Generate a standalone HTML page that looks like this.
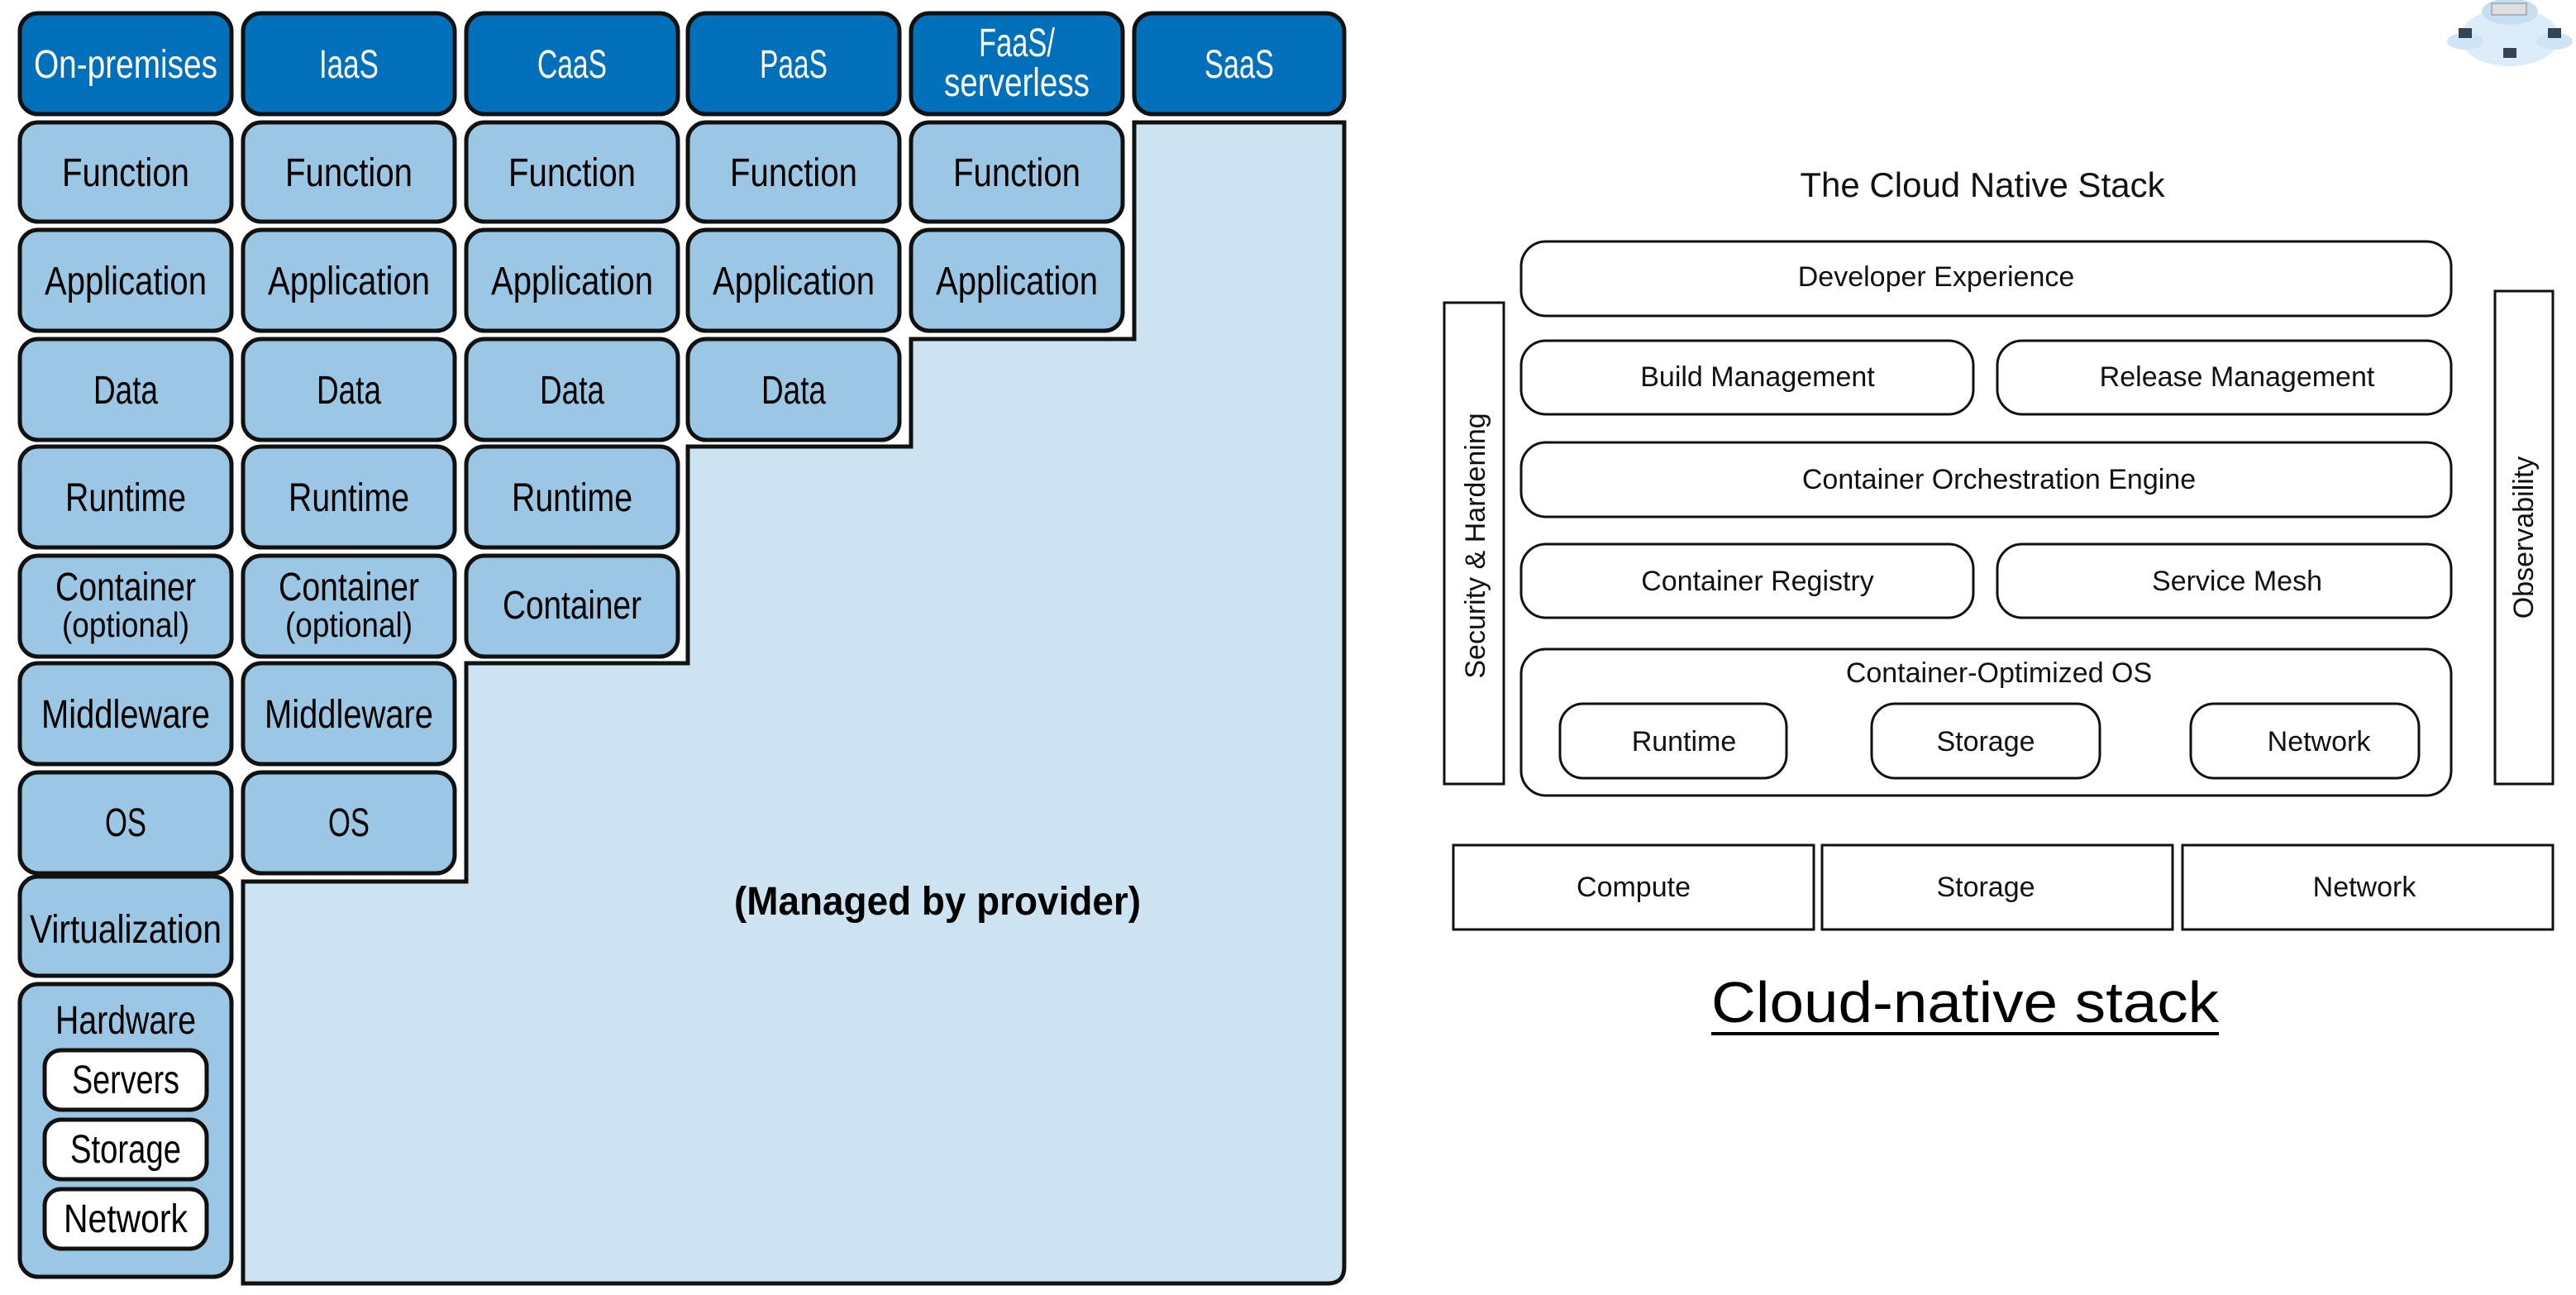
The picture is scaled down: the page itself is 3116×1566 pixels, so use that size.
<!DOCTYPE html>
<html><head><meta charset="utf-8"><style>
html,body{margin:0;padding:0;background:#fff;width:3116px;height:1566px;overflow:hidden}
svg{display:block}
.c{font-family:"Liberation Sans",sans-serif;font-size:48px;text-anchor:middle;fill:#000}
.w{fill:#fff}
.r{font-family:"Liberation Sans",sans-serif;font-size:34px;text-anchor:middle;fill:#111}
</style></head><body>
<svg width="3116" height="1566" viewBox="0 0 3116 1566" xmlns="http://www.w3.org/2000/svg">
<g stroke="#111" stroke-width="5">
<path d="M1372,148 L1626,148 L1626,1532 Q1626,1552 1606,1552 L294,1552 L294,1066 L564,1066 L564,802 L832,802 L832,540 L1102,540 L1102,410 L1372,410 Z" fill="#cde3f1"/>
<g fill="#0070bb">
<rect x="24" y="16" width="256" height="122" rx="22"/>
<rect x="294" y="16" width="256" height="122" rx="22"/>
<rect x="564" y="16" width="256" height="122" rx="22"/>
<rect x="832" y="16" width="256" height="122" rx="22"/>
<rect x="1102" y="16" width="256" height="122" rx="22"/>
<rect x="1372" y="16" width="254" height="122" rx="22"/>
</g>
<g fill="#9bc6e4">
<rect x="24" y="148" width="256" height="120" rx="22"/>
<rect x="24" y="278" width="256" height="122" rx="22"/>
<rect x="24" y="410" width="256" height="122" rx="22"/>
<rect x="24" y="540" width="256" height="122" rx="22"/>
<rect x="24" y="672" width="256" height="122" rx="22"/>
<rect x="24" y="802" width="256" height="122" rx="22"/>
<rect x="24" y="934" width="256" height="122" rx="22"/>
<rect x="24" y="1060" width="256" height="120" rx="22"/>
<rect x="24" y="1190" width="256" height="354" rx="22"/>
<rect x="294" y="148" width="256" height="120" rx="22"/>
<rect x="294" y="278" width="256" height="122" rx="22"/>
<rect x="294" y="410" width="256" height="122" rx="22"/>
<rect x="294" y="540" width="256" height="122" rx="22"/>
<rect x="294" y="672" width="256" height="122" rx="22"/>
<rect x="294" y="802" width="256" height="122" rx="22"/>
<rect x="294" y="934" width="256" height="122" rx="22"/>
<rect x="564" y="148" width="256" height="120" rx="22"/>
<rect x="564" y="278" width="256" height="122" rx="22"/>
<rect x="564" y="410" width="256" height="122" rx="22"/>
<rect x="564" y="540" width="256" height="122" rx="22"/>
<rect x="564" y="672" width="256" height="122" rx="22"/>
<rect x="832" y="148" width="256" height="120" rx="22"/>
<rect x="832" y="278" width="256" height="122" rx="22"/>
<rect x="832" y="410" width="256" height="122" rx="22"/>
<rect x="1102" y="148" width="256" height="120" rx="22"/>
<rect x="1102" y="278" width="256" height="122" rx="22"/>
</g>
<g fill="#fff">
<rect x="54" y="1270" width="196" height="72" rx="20"/>
<rect x="54" y="1354" width="196" height="72" rx="20"/>
<rect x="54" y="1438" width="196" height="72" rx="20"/>
</g>
</g>
<g>
<text x="152" y="94" textLength="222" lengthAdjust="spacingAndGlyphs" class="c w">On-premises</text>
<text x="422" y="94" textLength="72" lengthAdjust="spacingAndGlyphs" class="c w">IaaS</text>
<text x="692" y="94" textLength="84" lengthAdjust="spacingAndGlyphs" class="c w">CaaS</text>
<text x="960" y="94" textLength="82" lengthAdjust="spacingAndGlyphs" class="c w">PaaS</text>
<text x="1230" y="68" textLength="92" lengthAdjust="spacingAndGlyphs" class="c w">FaaS/</text>
<text x="1230" y="116" textLength="176" lengthAdjust="spacingAndGlyphs" class="c w">serverless</text>
<text x="1499" y="94" textLength="84" lengthAdjust="spacingAndGlyphs" class="c w">SaaS</text>
</g>
<g>
<text class="c" x="152" y="225" textLength="154" lengthAdjust="spacingAndGlyphs">Function</text>
<text class="c" x="422" y="225" textLength="154" lengthAdjust="spacingAndGlyphs">Function</text>
<text class="c" x="692" y="225" textLength="154" lengthAdjust="spacingAndGlyphs">Function</text>
<text class="c" x="960" y="225" textLength="154" lengthAdjust="spacingAndGlyphs">Function</text>
<text class="c" x="1230" y="225" textLength="154" lengthAdjust="spacingAndGlyphs">Function</text>
<text class="c" x="152" y="356" textLength="196" lengthAdjust="spacingAndGlyphs">Application</text>
<text class="c" x="422" y="356" textLength="196" lengthAdjust="spacingAndGlyphs">Application</text>
<text class="c" x="692" y="356" textLength="196" lengthAdjust="spacingAndGlyphs">Application</text>
<text class="c" x="960" y="356" textLength="196" lengthAdjust="spacingAndGlyphs">Application</text>
<text class="c" x="1230" y="356" textLength="196" lengthAdjust="spacingAndGlyphs">Application</text>
<text class="c" x="152" y="488" textLength="78" lengthAdjust="spacingAndGlyphs">Data</text>
<text class="c" x="422" y="488" textLength="78" lengthAdjust="spacingAndGlyphs">Data</text>
<text class="c" x="692" y="488" textLength="78" lengthAdjust="spacingAndGlyphs">Data</text>
<text class="c" x="960" y="488" textLength="78" lengthAdjust="spacingAndGlyphs">Data</text>
<text class="c" x="152" y="618" textLength="146" lengthAdjust="spacingAndGlyphs">Runtime</text>
<text class="c" x="422" y="618" textLength="146" lengthAdjust="spacingAndGlyphs">Runtime</text>
<text class="c" x="692" y="618" textLength="146" lengthAdjust="spacingAndGlyphs">Runtime</text>
<text class="c" x="152" y="726" textLength="170" lengthAdjust="spacingAndGlyphs">Container</text>
<text class="c" x="152" y="770" style="font-size:42px" textLength="154" lengthAdjust="spacingAndGlyphs">(optional)</text>
<text class="c" x="422" y="726" textLength="170" lengthAdjust="spacingAndGlyphs">Container</text>
<text class="c" x="422" y="770" style="font-size:42px" textLength="154" lengthAdjust="spacingAndGlyphs">(optional)</text>
<text class="c" x="692" y="748" textLength="168" lengthAdjust="spacingAndGlyphs">Container</text>
<text class="c" x="152" y="880" textLength="204" lengthAdjust="spacingAndGlyphs">Middleware</text>
<text class="c" x="422" y="880" textLength="204" lengthAdjust="spacingAndGlyphs">Middleware</text>
<text class="c" x="152" y="1011" textLength="50" lengthAdjust="spacingAndGlyphs">OS</text>
<text class="c" x="422" y="1011" textLength="50" lengthAdjust="spacingAndGlyphs">OS</text>
<text class="c" x="152" y="1140" textLength="232" lengthAdjust="spacingAndGlyphs">Virtualization</text>
<text class="c" x="152" y="1250" textLength="170" lengthAdjust="spacingAndGlyphs">Hardware</text>
<text class="c" x="152" y="1322" textLength="130" lengthAdjust="spacingAndGlyphs">Servers</text>
<text class="c" x="152" y="1406" textLength="134" lengthAdjust="spacingAndGlyphs">Storage</text>
<text class="c" x="152" y="1490" textLength="150" lengthAdjust="spacingAndGlyphs">Network</text>
<text class="c" x="1134" y="1106" style="font-weight:bold" textLength="492" lengthAdjust="spacingAndGlyphs">(Managed by provider)</text>
</g>

<text class="r" x="2398" y="238" style="font-size:42px">The Cloud Native Stack</text>
<g fill="#fff" stroke="#111" stroke-width="3">
<rect x="1840" y="292" width="1125" height="90" rx="30"/>
<rect x="1840" y="412" width="547" height="89" rx="30"/>
<rect x="2416" y="412" width="549" height="89" rx="30"/>
<rect x="1840" y="535" width="1125" height="90" rx="30"/>
<rect x="1840" y="658" width="547" height="89" rx="30"/>
<rect x="2416" y="658" width="549" height="89" rx="30"/>
<rect x="1840" y="785" width="1125" height="177" rx="30"/>
<rect x="1887" y="851" width="274" height="90" rx="28"/>
<rect x="2264" y="851" width="276" height="90" rx="28"/>
<rect x="2650" y="851" width="276" height="90" rx="28"/>
<rect x="1747" y="366" width="72" height="582"/>
<rect x="3018" y="352" width="70" height="596"/>
<rect x="1758" y="1022" width="436" height="102"/>
<rect x="2204" y="1022" width="424" height="102"/>
<rect x="2640" y="1022" width="448" height="102"/>
</g>
<text class="r" x="2342" y="346">Developer Experience</text>
<text class="r" x="2126" y="467">Build Management</text>
<text class="r" x="2706" y="467">Release Management</text>
<text class="r" x="2418" y="591">Container Orchestration Engine</text>
<text class="r" x="2126" y="714">Container Registry</text>
<text class="r" x="2706" y="714">Service Mesh</text>
<text class="r" x="2418" y="825">Container-Optimized OS</text>
<text class="r" x="2037" y="908">Runtime</text>
<text class="r" x="2402" y="908">Storage</text>
<text class="r" x="2805" y="908">Network</text>
<text class="r" transform="translate(1796,660) rotate(-90)">Security &amp; Hardening</text>
<text class="r" transform="translate(3064,650) rotate(-90)">Observability</text>
<text class="r" x="1976" y="1084">Compute</text>
<text class="r" x="2402" y="1084">Storage</text>
<text class="r" x="2860" y="1084">Network</text>
<text x="2377" y="1236" style="font-family:'Liberation Sans',sans-serif;font-size:70px;text-anchor:middle" textLength="614" lengthAdjust="spacingAndGlyphs">Cloud-native stack</text>
<rect x="2070" y="1248" width="614" height="4" fill="#000"/>

<ellipse cx="3036" cy="45" rx="60" ry="35" fill="#dcecf8"/>
<ellipse cx="3036" cy="14" rx="34" ry="16" fill="#c6def2"/>
<rect x="3014" y="4" width="42" height="14" fill="#ddd" stroke="#888" stroke-width="1"/>
<ellipse cx="2982" cy="50" rx="22" ry="10" fill="#cfe4f5"/>
<ellipse cx="3090" cy="50" rx="22" ry="10" fill="#cfe4f5"/>
<rect x="2974" y="34" width="16" height="12" fill="#345"/>
<rect x="3028" y="58" width="16" height="12" fill="#345"/>
<rect x="3082" y="34" width="16" height="12" fill="#345"/>
</svg>
</body></html>
